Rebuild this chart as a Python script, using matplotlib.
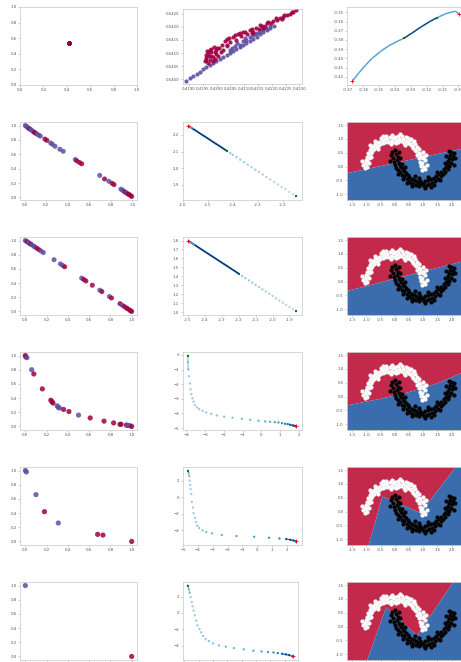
import numpy as np
import matplotlib
matplotlib.use('Agg')
import matplotlib.pyplot as plt
from matplotlib.ticker import MultipleLocator, FormatStrFormatter
from matplotlib.collections import LineCollection

plt.close('all')

RED = '#9e0142'
PURPLE = '#5e4fa2'
REG_RED = '#c3294a'
REG_BLUE = '#3a6cae'

# ---- row 1: the cloud of points (zoomed in middle panel) ----
cloud_red_x = [0.41957, 0.41963, 0.41961, 0.41969, 0.41975, 0.41973, 0.41981, 0.41987, 0.41985, 0.41993,
               0.41997, 0.41999, 0.42005, 0.42009, 0.42014, 0.41965, 0.41978, 0.41990, 0.42018, 0.42024,
               0.42030, 0.42038, 0.42048, 0.42060, 0.42070, 0.42078, 0.42090, 0.42102, 0.42111, 0.42121,
               0.42133, 0.42142, 0.42155, 0.42163, 0.42175, 0.42184, 0.42196, 0.42205, 0.42218, 0.42230,
               0.42242, 0.42254, 0.42266, 0.42276, 0.42288, 0.42036, 0.42084, 0.42169, 0.42236, 0.42127,
               0.42066, 0.42096, 0.42127, 0.42157, 0.42187, 0.42215, 0.42245, 0.42272, 0.42045,
               0.41960, 0.41970, 0.41980, 0.41995, 0.42003, 0.41975]
cloud_red_y = [0.54068, 0.54081, 0.54094, 0.54062, 0.54074, 0.54090, 0.54103, 0.54068, 0.54085, 0.54077,
               0.54097, 0.54113, 0.54087, 0.54119, 0.54103, 0.54106, 0.54115, 0.54123, 0.54132, 0.54113,
               0.54145, 0.54154, 0.54141, 0.54162, 0.54151, 0.54171, 0.54164, 0.54179, 0.54172, 0.54187,
               0.54182, 0.54196, 0.54192, 0.54205, 0.54203, 0.54213, 0.54215, 0.54223, 0.54226, 0.54235,
               0.54238, 0.54246, 0.54249, 0.54256, 0.54264, 0.54132, 0.54177, 0.54195, 0.54228, 0.54177,
               0.54170, 0.54180, 0.54193, 0.54207, 0.54220, 0.54232, 0.54244, 0.54258, 0.54158,
               0.54075, 0.54100, 0.54090, 0.54105, 0.54120, 0.54110]
cloud_pur_x = [0.41890, 0.41902, 0.41915, 0.41927, 0.41939, 0.41951, 0.41963, 0.41975, 0.41987, 0.41999,
               0.42012, 0.42024, 0.42036, 0.42048, 0.42060, 0.42072, 0.42084, 0.42096, 0.42108, 0.42121,
               0.42133, 0.42145, 0.42157, 0.42169, 0.42181, 0.42193, 0.42208,
               0.42036, 0.42054, 0.42066, 0.42075, 0.42084, 0.42096, 0.42108, 0.42121, 0.42133, 0.42145,
               0.42157, 0.42169, 0.42181, 0.42048, 0.42102, 0.42139, 0.42175, 0.42193]
cloud_pur_y = [0.53995, 0.54004, 0.54013, 0.54021, 0.54029, 0.54038, 0.54046, 0.54054, 0.54062, 0.54069,
               0.54077, 0.54085, 0.54092, 0.54100, 0.54106, 0.54115, 0.54123, 0.54131, 0.54138, 0.54146,
               0.54154, 0.54163, 0.54171, 0.54179, 0.54187, 0.54196, 0.54205,
               0.54126, 0.54119, 0.54128, 0.54138, 0.54132, 0.54145, 0.54151, 0.54162, 0.54167, 0.54177,
               0.54183, 0.54190, 0.54192, 0.54113, 0.54158, 0.54174, 0.54197, 0.54203]

# ---- left column, rows 2-6: probability pairs ----
p2_x = [0.006, 0.015, 0.024, 0.036, 0.045, 0.055, 0.067, 0.079, 0.091, 0.10, 0.115, 0.13, 0.145, 0.188,
        0.206, 0.242, 0.258, 0.282, 0.327, 0.358, 0.47, 0.485, 0.509, 0.53, 0.697, 0.742, 0.782, 0.812,
        0.83, 0.894, 0.909, 0.921, 0.933, 0.945, 0.958, 0.97, 0.982, 0.994]
p2_y = [1.0, 0.99, 0.977, 0.963, 0.954, 0.945, 0.931, 0.917, 0.904, 0.894, 0.881, 0.867, 0.853, 0.812,
        0.794, 0.757, 0.739, 0.711, 0.670, 0.642, 0.528, 0.509, 0.486, 0.468, 0.307, 0.257, 0.225, 0.197,
        0.179, 0.115, 0.101, 0.087, 0.073, 0.064, 0.050, 0.041, 0.028, 0.014]
p2_c = 'pppprppprrppprrpppppprrrprprrppprprrrr'

p3_x = [0.0, 0.01, 0.02, 0.03, 0.04, 0.05, 0.06, 0.08, 0.09, 0.11, 0.13, 0.15, 0.17, 0.27, 0.33, 0.35,
        0.37, 0.53, 0.55, 0.57, 0.63, 0.70, 0.72, 0.79, 0.81, 0.89, 0.91, 0.93, 0.95, 0.96, 0.98, 0.99, 1.0]
p3_y = [1.0, 0.99, 0.98, 0.97, 0.96, 0.95, 0.94, 0.92, 0.91, 0.89, 0.87, 0.85, 0.83, 0.73, 0.67, 0.65,
        0.63, 0.47, 0.45, 0.43, 0.37, 0.30, 0.28, 0.21, 0.19, 0.11, 0.09, 0.07, 0.05, 0.04, 0.02, 0.01, 0.0]
p3_c = 'pprpprppprrppppprprrrprprrprrrrrr'

p4_x = [0.0, 0.005, 0.015, 0.06, 0.08, 0.16, 0.24, 0.25, 0.26, 0.30, 0.31, 0.32, 0.36, 0.41, 0.50,
        0.61, 0.74, 0.83, 0.89, 0.90, 0.95, 0.96, 0.97, 0.985, 1.0]
p4_y = [1.0, 0.98, 0.97, 0.80, 0.74, 0.53, 0.37, 0.35, 0.33, 0.29, 0.27, 0.26, 0.24, 0.21, 0.16,
        0.12, 0.075, 0.05, 0.03, 0.03, 0.02, 0.014, 0.014, 0.01, 0.0]
p4_c = 'rrpprrrrrppprrprrrrrrpppr'

p5_x = [0.0, 0.01, 0.10, 0.18, 0.31, 0.68, 0.73, 1.0]
p5_y = [1.0, 0.98, 0.66, 0.42, 0.26, 0.10, 0.09, 0.0]
p5_c = 'ppprprrr'

p6_x = [0.0, 1.0]
p6_y = [1.0, 0.0]
p6_c = 'pr'

# ---- trajectories ----
t1_x = [-0.3669, -0.3627, -0.3585, -0.3544, -0.3492, -0.3440, -0.3388, -0.3342, -0.3294, -0.3231,
        -0.3179, -0.3138, -0.3085, -0.3044, -0.3019, -0.2998]
t1_y = [-0.4247, -0.4156, -0.4072, -0.3999, -0.3926, -0.3864, -0.3817, -0.3780, -0.3726, -0.3653,
        -0.3598, -0.3561, -0.3518, -0.3496, -0.3488, -0.3518]
t1_green_x = [-0.3342, -0.3138]
t1_green_y = [-0.3780, -0.3561]
t1_red_x = [-0.3669, -0.2998]
t1_red_y = [-0.4247, -0.3518]

t2_fast_x = [-2.147, -2.16, -2.175, -2.19, -2.205, -2.22, -2.235, -2.25, -2.265, -2.28, -2.295, -2.31,
             -2.325, -2.34, -2.355, -2.37, -2.385, -2.40, -2.41, -2.422]
t2_fast_y = [1.830, 1.843, 1.858, 1.873, 1.887, 1.902, 1.917, 1.932, 1.947, 1.962, 1.977, 1.991,
             2.006, 2.021, 2.036, 2.051, 2.066, 2.080, 2.090, 2.102]
t2_slow_x = [-2.422, -2.43, -2.44, -2.45, -2.46, -2.47, -2.48, -2.49, -2.50, -2.51, -2.52, -2.53,
             -2.54, -2.55, -2.56, -2.57, -2.579]
t2_slow_y = [2.102, 2.110, 2.120, 2.130, 2.140, 2.149, 2.159, 2.169, 2.179, 2.189, 2.198, 2.208,
             2.218, 2.228, 2.237, 2.247, 2.256]

t3_fast_x = [-1.861, -1.88, -1.90, -1.92, -1.94, -1.96, -1.98, -2.00, -2.02, -2.04, -2.06, -2.08,
             -2.10, -2.12, -2.14, -2.16, -2.18, -2.20]
t3_fast_y = [1.007, 1.031, 1.056, 1.080, 1.105, 1.130, 1.155, 1.180, 1.205, 1.230, 1.255, 1.280,
             1.305, 1.329, 1.354, 1.379, 1.404, 1.429]
t3_slow_x = [-2.20, -2.22, -2.24, -2.26, -2.28, -2.30, -2.32, -2.34, -2.36, -2.38, -2.40, -2.42,
             -2.44, -2.46, -2.48, -2.50]
t3_slow_y = [1.429, 1.455, 1.479, 1.504, 1.529, 1.553, 1.578, 1.603, 1.627, 1.652, 1.677, 1.701,
             1.726, 1.751, 1.775, 1.800]

t4_x = [-3.912, -3.912, -3.894, -3.858, -3.805, -3.770, -3.735, -3.664, -3.611, -3.540, -3.434, -3.310,
        -3.133, -2.938, -2.673, -2.372, -1.982, -1.540, -1.044, -0.602, -0.159, 0.195, 0.460, 0.708,
        0.903, 1.097, 1.257, 1.398, 1.522, 1.664, 1.752, 1.841]
t4_y = [-0.046, -0.502, -1.005, -1.461, -1.941, -2.352, -2.671, -2.968, -3.196, -3.425, -3.584, -3.699,
        -3.813, -3.927, -4.018, -4.132, -4.224, -4.292, -4.361, -4.429, -4.498, -4.543, -4.566, -4.589,
        -4.612, -4.658, -4.703, -4.726, -4.772, -4.817, -4.840, -4.886]

t5_x = [-4.674, -4.629, -4.584, -4.562, -4.517, -4.494, -4.449, -4.404, -4.337, -4.292, -4.202, -4.135,
        -4.045, -3.910, -3.685, -3.438, -3.034, -2.382, -1.393, -0.202, 0.809, 1.506, 1.955, 2.247,
        2.449, 2.629]
t5_y = [3.224, 2.939, 2.531, 2.000, 1.469, 0.980, 0.367, -0.571, -1.265, -1.959, -2.531, -3.020,
        -3.469, -3.755, -4.041, -4.245, -4.408, -4.612, -4.735, -4.816, -4.939, -5.020, -5.102, -5.184,
        -5.265, -5.388]

t6_x = [-4.750, -4.682, -4.614, -4.547, -4.479, -4.411, -4.343, -4.253, -4.162, -4.072, -3.936, -3.823,
        -3.688, -3.507, -3.281, -2.987, -2.581, -2.106, -1.541, -0.863, -0.185, 0.380, 0.832, 1.216,
        1.510, 1.804, 2.075, 2.301, 2.550]
t6_y = [3.347, 2.939, 2.449, 1.918, 1.347, 0.816, 0.286, -0.286, -0.939, -1.510, -1.959, -2.367,
        -2.816, -3.184, -3.429, -3.714, -3.959, -4.122, -4.286, -4.449, -4.612, -4.694, -4.776, -4.816,
        -4.898, -4.980, -5.061, -5.143, -5.306]

# ---- moons data ----
moon0_x = [1.05, 0.92, 1.12, 0.97, 1.08, 0.88, 0.93, 1.04, 0.85, 0.90, 0.80, 0.98, 0.76, 0.86, 0.70, 0.78,
           0.66, 0.72, 0.60, 0.64, 0.55, 0.52, 0.45, 0.48, 0.38, 0.40, 0.32, 0.30, 0.22, 0.25, 0.15, 0.12,
           0.10, 0.04, 0.02, -0.04, -0.06, -0.10, -0.14, -0.18, -0.22, -0.26, -0.30, -0.34, -0.38, -0.42,
           -0.46, -0.50, -0.52, -0.56, -0.60, -0.64, -0.66, -0.70, -0.73, -0.76, -0.80, -0.82, -0.85, -0.88,
           -0.90, -0.94, -0.92, -0.98, -0.96, -1.02, -1.00, -1.06, -0.98, -1.10, -1.04, -0.90, -1.14, -0.84,
           -0.70, -0.40, 0.06, 0.58, 0.94, 1.00, 0.84, 0.35, -0.12, -0.58, 0.68, -0.86, 1.10, 0.18, 0.96, 1.02]
moon0_y = [-0.08, 0.02, 0.06, 0.12, 0.22, 0.18, 0.33, 0.38, 0.30, 0.45, 0.42, 0.52, 0.55, 0.62, 0.60, 0.72,
           0.68, 0.80, 0.75, 0.88, 0.82, 0.95, 0.85, 1.02, 0.92, 1.05, 0.86, 1.00, 0.94, 1.10, 1.00, 0.88,
           1.12, 0.96, 1.08, 0.90, 1.02, 1.15, 0.94, 1.06, 0.88, 1.00, 1.10, 0.90, 0.98, 0.84, 0.95, 1.04,
           0.80, 0.90, 0.76, 0.86, 0.70, 0.80, 0.62, 0.74, 0.56, 0.68, 0.48, 0.58, 0.40, 0.50, 0.30, 0.36,
           0.20, 0.25, 0.10, 0.14, 0.00, 0.04, -0.06, 0.12, 0.20, 0.36, 0.92, 1.12, 0.84, 1.00, 0.08, 0.30,
           0.50, 0.78, 0.82, 0.64, 0.92, 0.78, 0.40, 1.18, -0.14, -0.02]
moon1_x = [-0.08, 0.06, -0.12, 0.10, -0.05, 0.08, -0.02, 0.14, 0.02, 0.18, 0.06, 0.22, 0.12, 0.28, 0.18,
           0.32, 0.24, 0.40, 0.34, 0.46, 0.42, 0.52, 0.50, 0.60, 0.58, 0.68, 0.66, 0.76, 0.74, 0.82, 0.86,
           0.90, 0.94, 1.00, 1.02, 1.08, 1.12, 1.18, 1.22, 1.28, 1.32, 1.38, 1.42, 1.46, 1.52, 1.56, 1.62,
           1.64, 1.70, 1.72, 1.78, 1.80, 1.86, 1.84, 1.92, 1.88, 1.98, 1.92, 2.02, 1.94, 2.06, 1.98, 2.08,
           1.90, 2.12, 1.82, 0.16, 0.20, -0.16, 0.26, 0.10, 0.36, 0.30, 0.62, 0.72, 1.06, 1.16, 1.40, 1.60,
           1.50, 1.76, 2.10, 0.00, 0.84, 1.26, 0.44]
moon1_y = [0.52, 0.46, 0.40, 0.35, 0.30, 0.24, 0.18, 0.14, 0.06, 0.04, -0.04, -0.02, -0.12, -0.08, -0.20,
           -0.16, -0.30, -0.22, -0.36, -0.30, -0.44, -0.38, -0.52, -0.44, -0.58, -0.48, -0.62, -0.52, -0.66,
           -0.58, -0.70, -0.52, -0.64, -0.58, -0.72, -0.54, -0.66, -0.50, -0.62, -0.46, -0.58, -0.40, -0.52,
           -0.34, -0.46, -0.26, -0.36, -0.18, -0.28, -0.10, -0.18, 0.00, -0.08, 0.10, 0.02, 0.20, 0.14, 0.30,
           0.26, 0.42, 0.38, 0.52, 0.50, 0.55, 0.30, 0.38, 0.52, 0.30, 0.20, 0.10, -0.28, 0.00, -0.46, -0.70,
           -0.36, -0.78, -0.38, -0.66, -0.50, -0.20, 0.14, 0.06, 0.60, -0.40, -0.74, -0.60]

# decision boundaries (blue below the line, red above)
bnd2_x = [-1.68, 2.58]
bnd2_y = [-0.22, 0.71]
bnd3_x = [-1.68, 2.58]
bnd3_y = [-0.32, 0.80]
bnd4_x = [-1.68, -0.5, 0.5, 1.5, 2.58]
bnd4_y = [-0.30, -0.06, 0.18, 0.50, 0.98]
bnd5_x = [-1.68, -0.94, -0.45, 0.89, 2.12, 2.58]
bnd5_y = [-1.21, -1.21, 0.56, -0.03, 1.61, 1.61]
bnd6_x = [-1.68, -0.99, -0.32, 0.77, 2.04, 2.58]
bnd6_y = [-1.21, -1.21, 0.71, -0.30, 1.61, 1.61]

MOON_XLIM = (-1.68, 2.58)
MOON_YLIM = (-1.21, 1.61)

W, H = 461.0, 662.0
fig = plt.figure(figsize=(W / 100, H / 100), dpi=100)
row_top = [7, 122, 237, 352, 467, 582]


def add_ax(left, top, width, height=78):
    ax = fig.add_axes([left / W, 1 - (top + height) / H, width / W, height / H])
    for sp in ax.spines.values():
        sp.set_color('#c8c8c8')
        sp.set_linewidth(0.5)
    ax.tick_params(labelsize=2.8, length=1.5, width=0.4, color='#aaaaaa',
                   labelcolor='#555555', pad=1)
    return ax


def probs(ax, x, y, codes, s=13):
    cols = [RED if c == 'r' else PURPLE for c in codes]
    ax.scatter(x, y, c=cols, s=s, linewidths=0, alpha=0.85)
    ax.xaxis.set_major_locator(MultipleLocator(0.2))
    ax.yaxis.set_major_locator(MultipleLocator(0.2))
    ax.xaxis.set_major_formatter(FormatStrFormatter('%.1f'))
    ax.yaxis.set_major_formatter(FormatStrFormatter('%.1f'))


def dots(ax, x, y, lo=0.35, power=4):
    t = np.linspace(0, 1, len(x))
    ax.scatter(x, y, c=lo + (1 - lo) * t ** power, cmap='Blues', vmin=0, vmax=1, s=3, linewidths=0)


def ends(ax, gx, gy, rx, ry):
    ax.scatter(gx, gy, marker='s', color='green', s=4, linewidths=0, zorder=4)
    ax.scatter(rx, ry, marker='+', color='red', s=8, linewidths=0.6, zorder=4)


def moons(ax, bx, by):
    ax.fill_between(bx, by, MOON_YLIM[1], color=REG_RED, linewidth=0)
    ax.fill_between(bx, MOON_YLIM[0], by, color=REG_BLUE, linewidth=0)
    ax.scatter(moon0_x, moon0_y, s=8, c='white', edgecolors='#e0e0e0', linewidths=0.2)
    ax.scatter(moon1_x, moon1_y, s=8, c='black', edgecolors='#222222', linewidths=0.2)
    ax.set_xlim(*MOON_XLIM)
    ax.set_ylim(*MOON_YLIM)
    ax.xaxis.set_major_locator(MultipleLocator(0.5))
    ax.yaxis.set_major_locator(MultipleLocator(0.5))
    ax.xaxis.set_major_formatter(FormatStrFormatter('%.1f'))
    ax.yaxis.set_major_formatter(FormatStrFormatter('%.1f'))


# ---------- row 1 ----------
ax = add_ax(20, row_top[0], 117)
ax.scatter(cloud_pur_x, cloud_pur_y, c=PURPLE, s=6, linewidths=0)
ax.scatter(cloud_red_x, cloud_red_y, c=RED, s=6, linewidths=0)
ax.set_xlim(0, 1)
ax.set_ylim(0, 1)
ax.xaxis.set_major_locator(MultipleLocator(0.2))
ax.yaxis.set_major_locator(MultipleLocator(0.2))
ax.xaxis.set_major_formatter(FormatStrFormatter('%.1f'))
ax.yaxis.set_major_formatter(FormatStrFormatter('%.1f'))

ax = add_ax(182.5, row_top[0] + 2, 119, 75)
ax.scatter(cloud_pur_x, cloud_pur_y, c=PURPLE, s=9, linewidths=0, alpha=0.9)
ax.scatter(cloud_red_x, cloud_red_y, c=RED, s=9, linewidths=0, alpha=0.9)
ax.set_xlim(0.41876, 0.42308)
ax.set_ylim(0.53982, 0.54268)
ax.xaxis.set_major_locator(MultipleLocator(0.0005))
ax.yaxis.set_major_locator(MultipleLocator(0.0005))
ax.xaxis.set_major_formatter(FormatStrFormatter('%.4f'))
ax.yaxis.set_major_formatter(FormatStrFormatter('%.4f'))

ax = add_ax(347, row_top[0], 121)
pts = np.column_stack([t1_x, t1_y]).reshape(-1, 1, 2)
segs = np.concatenate([pts[:-1], pts[1:]], axis=1)
mid = (np.array(t1_x[:-1]) + np.array(t1_x[1:])) / 2
shade = np.where((mid > t1_green_x[0]) & (mid < t1_green_x[1]), 0.92, 0.55)
ax.add_collection(LineCollection(segs, colors=plt.cm.Blues(shade), linewidths=1.1))
ends(ax, t1_green_x, t1_green_y, t1_red_x, t1_red_y)
ax.set_xlim(-0.3703, -0.2940)
ax.set_ylim(-0.4290, -0.3442)
ax.xaxis.set_major_locator(MultipleLocator(0.01))
ax.yaxis.set_major_locator(MultipleLocator(0.01))
ax.xaxis.set_major_formatter(FormatStrFormatter('%.2f'))
ax.yaxis.set_major_formatter(FormatStrFormatter('%.2f'))

# ---------- rows 2-3: straight trajectories ----------
for r, (px, py, pc, fx, fy, sx, sy, bx, by) in enumerate([
        (p2_x, p2_y, p2_c, t2_fast_x, t2_fast_y, t2_slow_x, t2_slow_y, bnd2_x, bnd2_y),
        (p3_x, p3_y, p3_c, t3_fast_x, t3_fast_y, t3_slow_x, t3_slow_y, bnd3_x, bnd3_y)]):
    top = row_top[r + 1]
    ax = add_ax(20, top, 117)
    probs(ax, px, py, pc)

    ax = add_ax(182.5, top, 119)
    ax.scatter(fx, fy, c=np.linspace(0.25, 0.4, len(fx)), cmap='Blues', vmin=0, vmax=1,
               s=3, linewidths=0)
    ax.plot(sx, sy, color=plt.cm.Blues(0.95), lw=1.3, solid_capstyle='butt')
    ax.plot(sx[-3:], sy[-3:], color=plt.cm.Blues(0.6), lw=1.3, solid_capstyle='butt')
    ends(ax, [fx[0], sx[0]], [fy[0], sy[0]], [sx[-1]], [sy[-1]])
    ax.xaxis.set_major_locator(MultipleLocator(0.1))
    ax.yaxis.set_major_locator(MultipleLocator(0.1))
    ax.xaxis.set_major_formatter(FormatStrFormatter('%.1f'))
    ax.yaxis.set_major_formatter(FormatStrFormatter('%.1f'))

    ax = add_ax(347, top, 121)
    moons(ax, bx, by)

# ---------- rows 4-6: curved trajectories ----------
for r, (px, py, pc, tx, ty, bx, by, ystep, mw) in enumerate([
        (p4_x, p4_y, p4_c, t4_x, t4_y, bnd4_x, bnd4_y, 1, 119),
        (p5_x, p5_y, p5_c, t5_x, t5_y, bnd5_x, bnd5_y, 2, 119),
        (p6_x, p6_y, p6_c, t6_x, t6_y, bnd6_x, bnd6_y, 2, 115.5)]):
    top = row_top[r + 3]
    ax = add_ax(20, top, 117)
    probs(ax, px, py, pc, s=14)

    ax = add_ax(182.5, top, mw)
    ax.plot(tx[:3], ty[:3], color=plt.cm.Blues(0.55), lw=0.6)
    ax.plot(tx[-4:], ty[-4:], color=plt.cm.Blues(0.85), lw=0.8)
    dots(ax, tx, ty)
    ends(ax, [tx[0]], [ty[0]], [tx[-1]], [ty[-1]])
    ax.xaxis.set_major_locator(MultipleLocator(1))
    ax.yaxis.set_major_locator(MultipleLocator(ystep))

    ax = add_ax(347, top, 121)
    moons(ax, bx, by)

fig.savefig('out.png', dpi=100)
